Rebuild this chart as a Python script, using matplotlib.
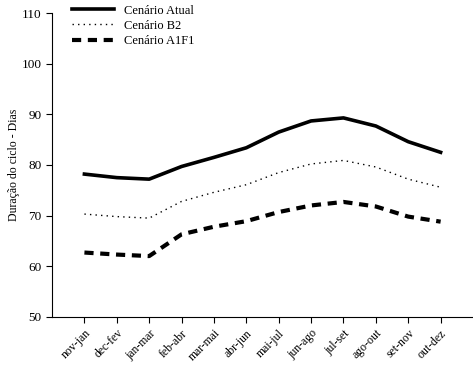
import matplotlib.pyplot as plt

plt.rcParams['font.family'] = ['Liberation Serif', 'DejaVu Serif']

periodos = ['nov-jan', 'dec-fev', 'jan-mar', 'feb-abr', 'mar-mai', 'abr-jun',
            'mai-jul', 'jun-ago', 'jul-set', 'ago-out', 'set-nov', 'out-dez']
atual = [78.2, 77.5, 77.2, 79.7, 81.5, 83.4, 86.5, 88.7, 89.3, 87.7, 84.6, 82.5]
b2 = [70.3, 69.8, 69.5, 72.8, 74.6, 76.1, 78.5, 80.2, 80.9, 79.6, 77.2, 75.6]
a1f1 = [62.7, 62.3, 62.0, 66.3, 67.8, 68.9, 70.7, 72.0, 72.7, 71.8, 69.8, 68.8]

fig = plt.figure(figsize=(4.73, 3.65), dpi=100)
ax = fig.add_axes([0.110, 0.132, 0.89, 0.832])

x = range(len(periodos))
ax.plot(x, atual, color='black', lw=2.6, label='Cenário Atual')
ax.plot(x, b2, color='black', lw=1.0, linestyle=(0, (1, 3)), label='Cenário B2')
ax.plot(x, a1f1, color='black', lw=3.0, linestyle=(0, (2.2, 1.6)), label='Cenário A1F1')

ax.set_xlim(-1, 12)
ax.set_ylim(50, 110)
ax.set_yticks(range(50, 111, 10))
ax.set_xticks(list(x))
ax.set_xticklabels(periodos, rotation=45, ha='right', rotation_mode='anchor', fontsize=8.5)
ax.tick_params(axis='y', labelsize=9.5, length=4, width=0.8)
ax.tick_params(axis='x', length=4, width=0.8)
ax.set_ylabel('Duração do ciclo - Dias', fontsize=8.5, labelpad=1)

for s in ['top', 'right']:
    ax.spines[s].set_visible(False)

ax.legend(loc='upper left', bbox_to_anchor=(0.02, 1.065), frameon=False,
          fontsize=9, handlelength=3.4, labelspacing=0.25)

fig.savefig('out.png', dpi=100)
